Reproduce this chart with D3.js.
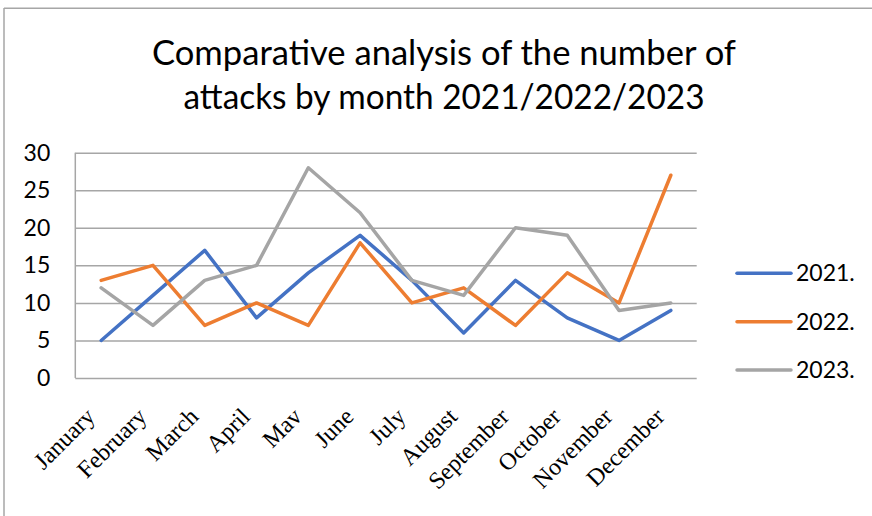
<!DOCTYPE html>
<html>
<head>
<meta charset="utf-8">
<script src="https://cdn.jsdelivr.net/npm/d3@7.9.0/dist/d3.min.js"></script>
<style>
  html, body { margin: 0; padding: 0; background: #fff; }
  svg { display: block; }
  .sans { font-family: Lato, "Open Sans", sans-serif; fill: #000; }
  .serif { font-family: "Liberation Serif", "DejaVu Serif", serif; fill: #000; }
</style>
</head>
<body>
<svg id="chart" width="872" height="516"></svg>
<script>
const months = ['January', 'February', 'March', 'April', 'Mav', 'June',
  'July', 'August', 'September', 'October', 'November', 'December'];
const years = ['2021.', '2022.', '2023.'];
const values2021 = [5, 11, 17, 8, 14, 19, 13, 6, 13, 8, 5, 9];
const values2022 = [13, 15, 7, 10, 7, 18, 10, 12, 7, 14, 10, 27];
const values2023 = [12, 7, 13, 15, 28, 22, 13, 11, 20, 19, 9, 10];
const yTicks = [0, 5, 10, 15, 20, 25, 30];
const titleLines = ['Comparative analysis of the number of', 'attacks by month 2021/2022/2023'];

const colors = ['#4472c4', '#ed7d31', '#a5a5a5'];
const series = [values2021, values2022, values2023];

const svg = d3.select('#chart');

// chart frame (only top and left edges show in the picture)
svg.append('line').attr('x1', 4).attr('x2', 872).attr('y1', 8.3).attr('y2', 8.3)
  .attr('stroke', '#a6a6a6').attr('stroke-width', 1.5);
svg.append('line').attr('x1', 4).attr('x2', 4).attr('y1', 8).attr('y2', 516)
  .attr('stroke', '#a6a6a6').attr('stroke-width', 1.5);

// title
svg.selectAll('.title').data(titleLines).enter()
  .append('text')
  .attr('class', 'sans title')
  .attr('x', 444)
  .attr('y', (d, i) => 65 + i * 43.5)
  .attr('text-anchor', 'middle')
  .attr('font-size', 35)
  .attr('textLength', (d, i) => i === 0 ? 584 : 521)
  .attr('lengthAdjust', 'spacingAndGlyphs')
  .text(d => d);

const plotLeft = 75.3, plotRight = 696.7, plotTop = 152.7, plotBottom = 378;

let x = d3.scalePoint().domain(months).range([plotLeft, plotRight]).padding(0.5);
let y = d3.scaleLinear().domain([0, 30]).range([plotBottom, plotTop]);

// gridlines
let grid = svg.append('g').attr('transform', `translate(${plotLeft},0)`)
  .call(d3.axisLeft(y).tickValues(yTicks).tickSize(-(plotRight - plotLeft)).tickFormat(''));
grid.select('.domain').remove();
grid.selectAll('line').attr('stroke', '#a6a6a6').attr('stroke-width', 1.5);

// y axis line
svg.append('line').attr('x1', plotLeft).attr('x2', plotLeft).attr('y1', plotTop).attr('y2', plotBottom)
  .attr('stroke', '#a6a6a6').attr('stroke-width', 1.5);

// y tick labels
let yAxis = svg.append('g').attr('transform', `translate(${plotLeft},0)`)
  .call(d3.axisLeft(y).tickValues(yTicks).tickSize(0).tickPadding(25));
yAxis.select('.domain').remove();
yAxis.selectAll('text')
  .attr('class', 'sans')
  .attr('font-size', 23)
  .attr('fill', '#000');

// month labels
svg.append('g').selectAll('text').data(months).enter()
  .append('text')
  .attr('class', 'serif')
  .attr('font-size', 24)
  .attr('text-anchor', 'end')
  .attr('transform', d => `translate(${x(d) - 5},${418}) rotate(-45)`)
  .text(d => d);

// lines
let line = d3.line().x((d, i) => x(months[i])).y(d => y(d));
series.forEach((vals, idx) => {
  svg.append('path')
    .datum(vals)
    .attr('d', line)
    .attr('fill', 'none')
    .attr('stroke', colors[idx])
    .attr('stroke-width', 3.5)
    .attr('stroke-linejoin', 'round')
    .attr('stroke-linecap', 'round');
});

// legend
let legendY = d3.scalePoint().domain(years).range([273.3, 370]);
let legend = svg.append('g').selectAll('g').data(years).enter().append('g')
  .attr('transform', d => `translate(737,${legendY(d)})`);
legend.append('line')
  .attr('x1', 0).attr('x2', 54)
  .attr('stroke', (d, i) => colors[i])
  .attr('stroke-width', 3.5)
  .attr('stroke-linecap', 'round');
legend.append('text')
  .attr('class', 'sans')
  .attr('x', 59)
  .attr('dy', '0.35em')
  .attr('font-size', 23)
  .text(d => d);
</script>
</body>
</html>
